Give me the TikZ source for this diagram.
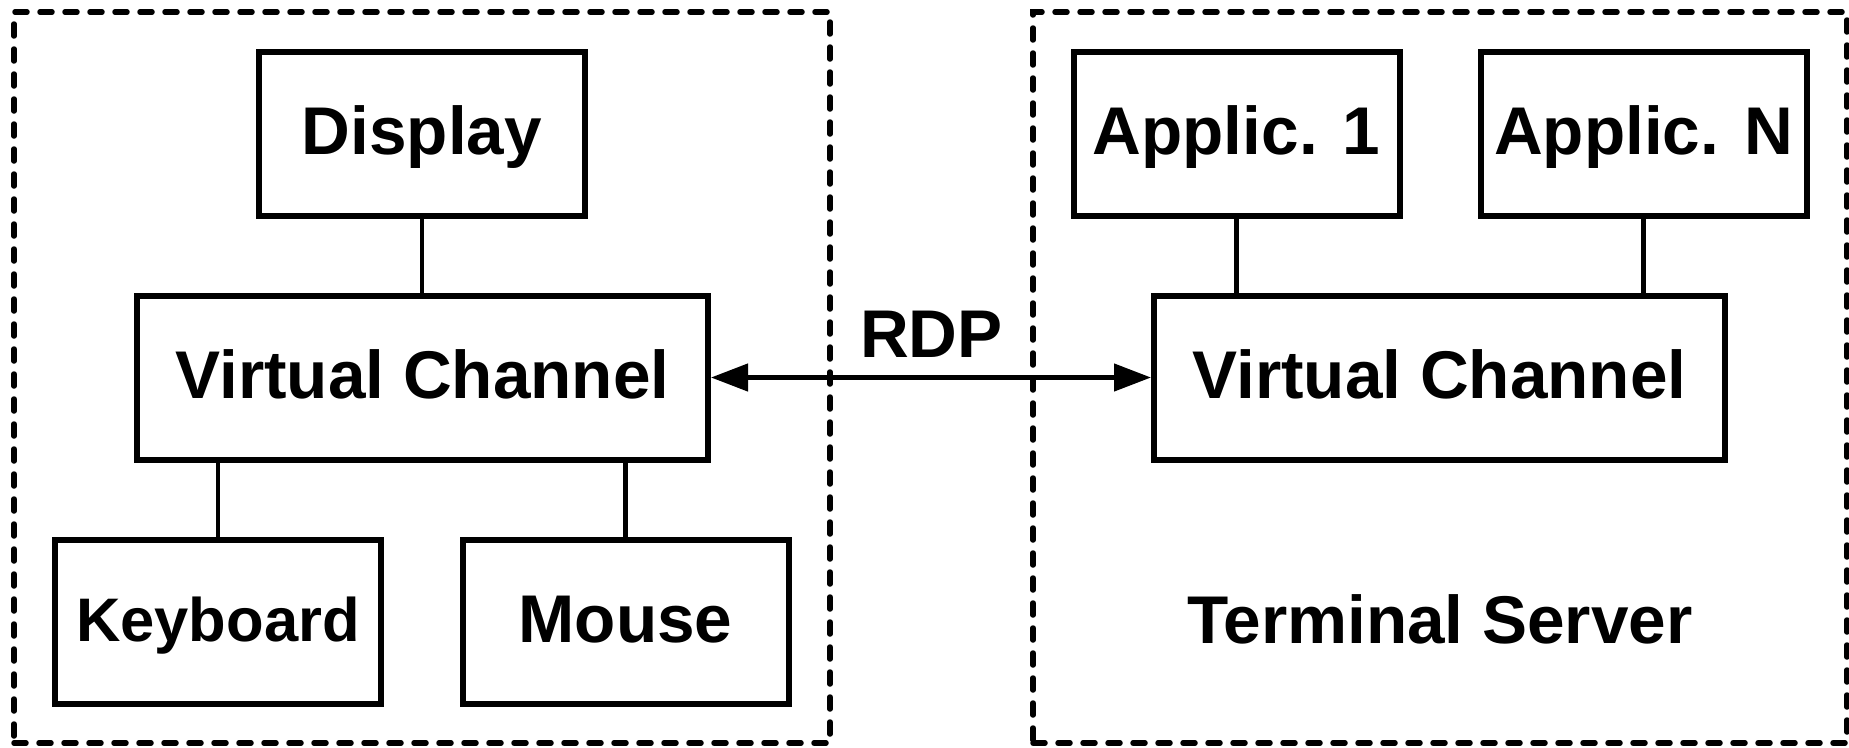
\documentclass[tikz,border=0pt]{standalone}
\usepackage{fontspec}
\setmainfont{Liberation Sans}
\usetikzlibrary{arrows.meta}
\tikzset{
  base/.style={inner sep=0pt, font=\bfseries\fontsize{67.5}{80}\selectfont,
    text height=48.3pt, text depth=7pt},
  blockbox/.style={base, draw, line width=6pt, minimum height=164pt},
  narrow/.style={blockbox, minimum width=326pt},
  wide/.style={blockbox, minimum width=571pt},
  group/.style={draw, line width=5.5pt, dash pattern=on 12pt off 13pt,
    line cap=round, inner sep=0pt},
  link/.style={line width=4.5pt},
  label/.style={base}
}
\begin{document}
\begin{tikzpicture}[x=1pt, y=-1pt]
\useasboundingbox (0,0) rectangle (1849,747);

% client and server groups
\node[group, minimum width=816pt, minimum height=731pt] (client) at (422,377.5) {};
\node[group, minimum width=814pt, minimum height=731pt] (server) at (1440,377.5) {};

% client side
\node[narrow] (disp) at (422,134) {Display};
\node[wide] (lvc) at (422.5,377.5) {Virtual Channel};
\node[narrow, font=\bfseries\fontsize{61.5}{74}\selectfont, text height=44pt, text depth=6pt] (kbd) at (218,622) {Keyboard};
\node[narrow] (mouse) at (625.5,622) {Mouse};

% server side
\node[narrow] (app1) at (1236.5,134) {Applic. 1};
\node[narrow] (appn) at (1643.5,134) {Applic. N};
\node[wide] (rvc) at (1439.5,377.5) {Virtual Channel};
\node[label] (ts) at (1440,622.5) {Terminal Server};

% connections
\draw[link] (disp.south) -- (disp.south |- lvc.north);
\draw[link] (kbd.north) -- (kbd.north |- lvc.south);
\draw[link] (mouse.north) -- (mouse.north |- lvc.south);
\draw[link] (app1.south) -- (app1.south |- rvc.north);
\draw[link] (appn.south) -- (appn.south |- rvc.north);

% protocol link
\draw[link, {Triangle[length=37pt,width=27pt]}-{Triangle[length=37pt,width=27pt]}]
  (lvc.east) -- (rvc.west);
\node[label] (rdp) at (931.5,336.5) {RDP};
\end{tikzpicture}
\end{document}
